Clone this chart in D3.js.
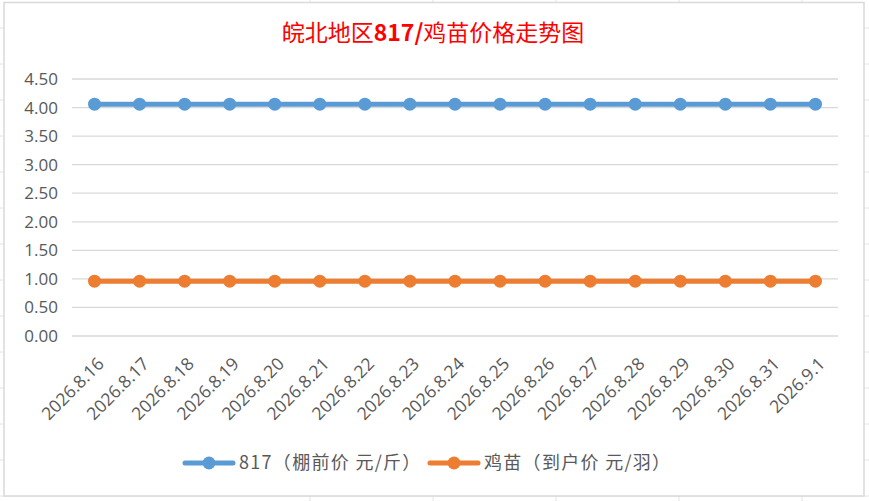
<!DOCTYPE html>
<html>
<head>
<meta charset="utf-8">
<script src="https://cdn.jsdelivr.net/npm/d3@7"></script>
<style>
  body { margin: 0; background: #fff; }
  svg { display: block; }
  text { font-family: "Noto Sans", "Noto Sans CJK SC", sans-serif; fill: #595959; }
</style>
</head>
<body>
<div id="chart"></div>
<script>
var dates = ['2026.8.16', '2026.8.17', '2026.8.18', '2026.8.19', '2026.8.20', '2026.8.21',
  '2026.8.22', '2026.8.23', '2026.8.24', '2026.8.25', '2026.8.26', '2026.8.27',
  '2026.8.28', '2026.8.29', '2026.8.30', '2026.8.31', '2026.9.1'];
var price817 = [4.06, 4.06, 4.06, 4.06, 4.06, 4.06, 4.06, 4.06, 4.06, 4.06, 4.06, 4.06,
  4.06, 4.06, 4.06, 4.06, 4.06];
var priceChick = [0.96, 0.96, 0.96, 0.96, 0.96, 0.96, 0.96, 0.96, 0.96, 0.96, 0.96, 0.96,
  0.96, 0.96, 0.96, 0.96, 0.96];
var yTicks = [0, 0.5, 1, 1.5, 2, 2.5, 3, 3.5, 4, 4.5];
var seriesNames = ['817（棚前价 元/斤）', '鸡苗（到户价 元/羽）'];
var colors = ['#5b9bd5', '#ed7d31'];

var width = 869, height = 501;
var plotLeft = 72, plotRight = 838, plotTop = 79, plotBottom = 336;

var svg = d3.select('#chart').append('svg')
  .attr('width', width)
  .attr('height', height);

// faint spreadsheet cells behind the chart
var rows = d3.range(28, height, 36);
svg.selectAll('.cellrow').data(rows).enter().append('line')
  .attr('x1', 0).attr('x2', width)
  .attr('y1', function(d) { return d; }).attr('y2', function(d) { return d; })
  .attr('stroke', '#e4e4e4').attr('stroke-width', 1);
var cols = [310, 433, 556, 679, 802];
svg.selectAll('.cellcol').data(cols).enter().append('line')
  .attr('y1', 0).attr('y2', height)
  .attr('x1', function(d) { return d; }).attr('x2', function(d) { return d; })
  .attr('stroke', '#e4e4e4').attr('stroke-width', 1);

// chart area
svg.append('rect')
  .attr('x', 4).attr('y', 2.5)
  .attr('width', 860).attr('height', 493.5)
  .attr('fill', '#fff')
  .attr('stroke', '#d9d9d9')
  .attr('stroke-width', 1.5);

var x = d3.scalePoint()
  .domain(dates)
  .range([plotLeft, plotRight])
  .padding(0.5);

var y = d3.scaleLinear()
  .domain([0, 4.5])
  .range([plotBottom, plotTop]);

// gridlines
svg.append('g')
  .selectAll('line')
  .data(yTicks)
  .enter().append('line')
    .attr('x1', plotLeft).attr('x2', plotRight)
    .attr('y1', function(d) { return y(d); })
    .attr('y2', function(d) { return y(d); })
    .attr('stroke', '#d9d9d9')
    .attr('stroke-width', 1.3);

// y axis labels
var yAxis = d3.axisLeft(y)
  .tickValues(yTicks)
  .tickSize(0)
  .tickPadding(14)
  .tickFormat(d3.format('.2f'));

svg.append('g')
  .attr('transform', 'translate(' + plotLeft + ',0)')
  .call(yAxis)
  .call(function(g) { g.select('.domain').remove(); })
  .selectAll('text')
    .style('font-size', '17px')
    .style('font-family', '"Open Sans", sans-serif')
    .style('fill', '#595959');

// x axis labels
var xAxis = d3.axisBottom(x).tickSize(0).tickPadding(0);
svg.append('g')
  .attr('transform', 'translate(0,' + plotBottom + ')')
  .call(xAxis)
  .call(function(g) { g.select('.domain').remove(); })
  .selectAll('text')
    .style('font-size', '17.5px')
    .style('font-family', '"Open Sans", sans-serif')
    .style('fill', '#595959')
    .attr('text-anchor', 'end')
    .attr('dy', 0)
    .attr('transform', 'translate(10,29) rotate(-45)');

// series
var series = [price817, priceChick];
var line = d3.line()
  .x(function(d, i) { return x(dates[i]); })
  .y(function(d) { return y(d); });

series.forEach(function(values, s) {
  svg.append('path')
    .datum(values)
    .attr('fill', 'none')
    .attr('stroke', colors[s])
    .attr('stroke-width', 5)
    .attr('stroke-linecap', 'round')
    .attr('d', line);

  svg.append('g')
    .selectAll('circle')
    .data(values)
    .enter().append('circle')
      .attr('cx', function(d, i) { return x(dates[i]); })
      .attr('cy', function(d) { return y(d); })
      .attr('r', 6.5)
      .attr('fill', colors[s]);
});

// title: Chinese regular, "817/" bold
var title = svg.append('text')
  .attr('x', 433)
  .attr('y', 41)
  .attr('text-anchor', 'middle')
  .style('font-family', '"Noto Sans CJK SC", sans-serif')
  .style('font-size', '23px')
  .style('font-weight', 400)
  .style('fill', '#ff0000');
title.append('tspan').text('皖北地区');
title.append('tspan').style('font-weight', 700).text('817/');
title.append('tspan').text('鸡苗价格走势图');

// legend
var legendX = [185, 430];
seriesNames.forEach(function(name, s) {
  var g = svg.append('g').attr('transform', 'translate(' + legendX[s] + ',463)');
  g.append('line')
    .attr('x1', 0).attr('x2', 48)
    .attr('stroke', colors[s])
    .attr('stroke-width', 5)
    .attr('stroke-linecap', 'round');
  g.append('circle')
    .attr('cx', 24).attr('r', 6.5)
    .attr('fill', colors[s]);
  g.append('text')
    .attr('x', 54)
    .attr('dy', '0.35em')
    .style('font-family', '"Noto Sans CJK SC", sans-serif')
    .style('font-size', '18px')
    .style('letter-spacing', '1.3px')
    .text(name);
});
</script>
</body>
</html>
